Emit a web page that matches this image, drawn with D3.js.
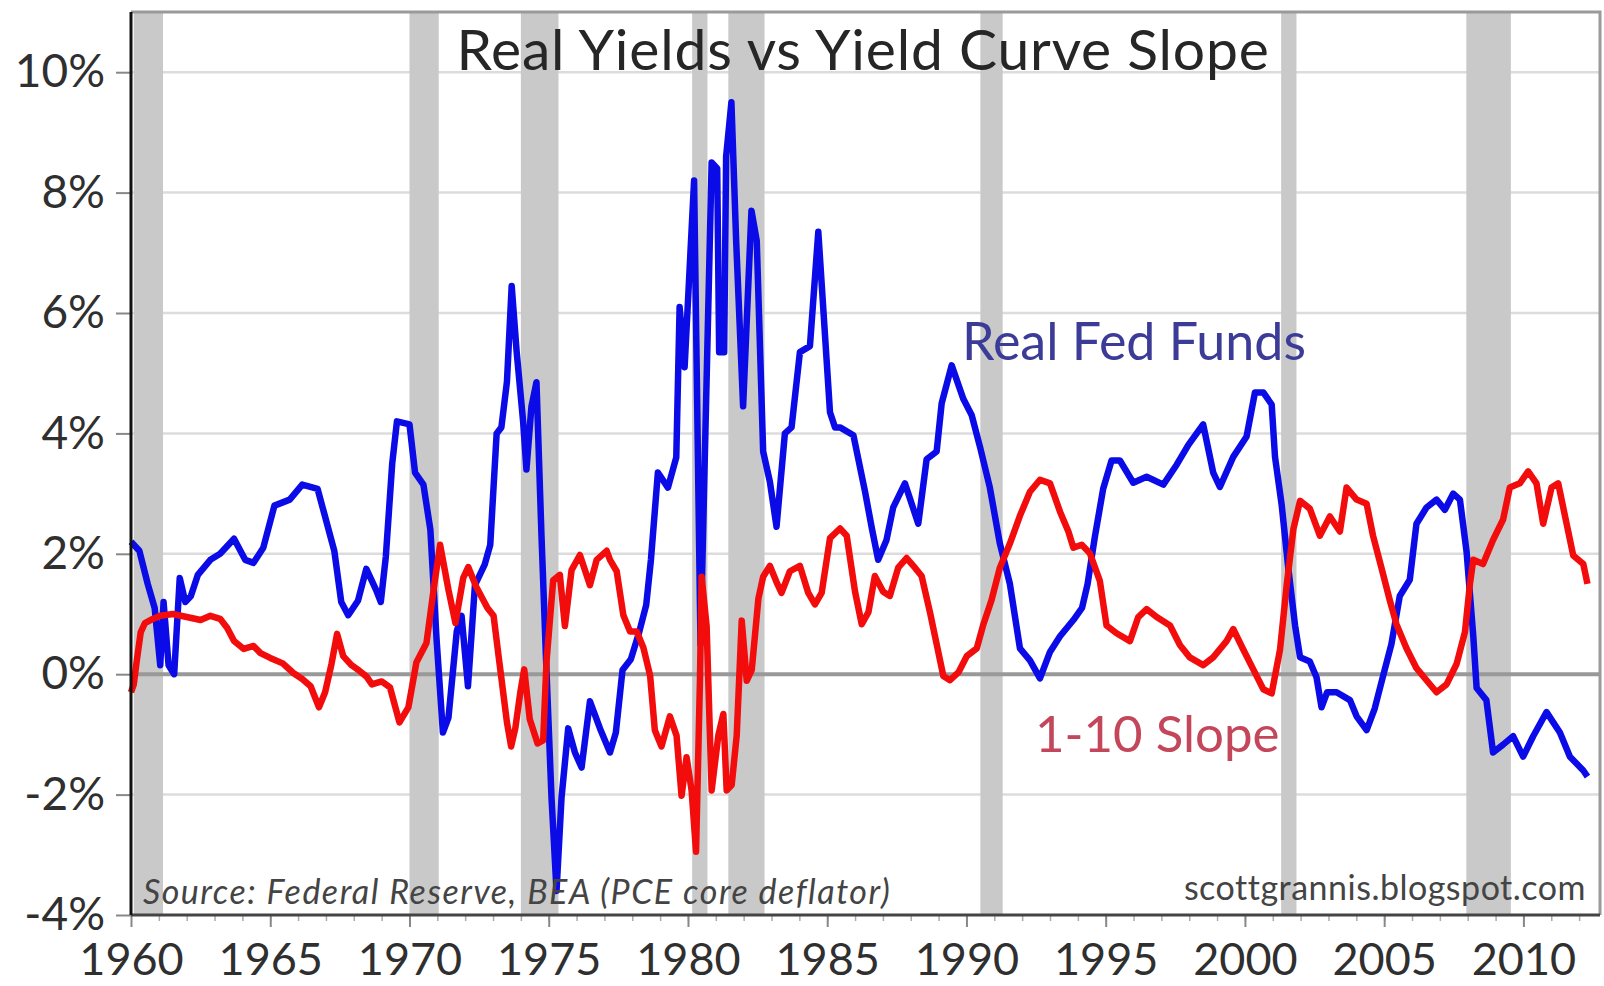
<!DOCTYPE html>
<html>
<head>
<meta charset="utf-8">
<script src="https://cdn.jsdelivr.net/npm/d3@7"></script>
<style>
  body { margin: 0; background: #fff; }
  svg { display: block; }
</style>
</head>
<body>
<div id="chart"></div>
<script>
// Real Fed Funds rate (year, %)
let realFedFunds = [
  [1960.0, 2.2], [1960.3, 2.05], [1960.6, 1.5], [1960.85, 1.1], [1961.05, 0.15], [1961.17, 1.2],
  [1961.35, 0.15], [1961.55, 0.0], [1961.75, 1.6], [1961.95, 1.2], [1962.15, 1.3], [1962.4, 1.65],
  [1962.85, 1.9], [1963.2, 2.0], [1963.7, 2.25], [1964.1, 1.9], [1964.4, 1.85], [1964.75, 2.1],
  [1965.15, 2.8], [1965.7, 2.9], [1966.15, 3.15], [1966.7, 3.08], [1966.95, 2.65], [1967.3, 2.05],
  [1967.55, 1.2], [1967.8, 0.98], [1968.15, 1.22], [1968.45, 1.75], [1968.8, 1.4], [1968.97, 1.2],
  [1969.15, 1.95], [1969.38, 3.5], [1969.55, 4.2], [1970.0, 4.15], [1970.2, 3.35], [1970.5, 3.15],
  [1970.75, 2.4], [1970.97, 0.6], [1971.2, -0.97], [1971.4, -0.72], [1971.7, 0.72], [1971.87, 0.97],
  [1972.1, -0.2], [1972.35, 1.48], [1972.7, 1.82], [1972.9, 2.15], [1973.13, 4.0], [1973.3, 4.1],
  [1973.5, 4.86], [1973.67, 6.45], [1973.85, 5.35], [1974.08, 4.2], [1974.2, 3.4], [1974.38, 4.45],
  [1974.56, 4.85], [1974.74, 2.3], [1974.92, 0.05], [1975.1, -2.05], [1975.28, -3.6], [1975.46, -2.05],
  [1975.7, -0.9], [1975.94, -1.3], [1976.18, -1.55], [1976.48, -0.45], [1976.84, -0.9], [1977.2, -1.3],
  [1977.41, -0.97], [1977.65, 0.07], [1977.95, 0.25], [1978.25, 0.7], [1978.5, 1.15], [1978.67, 1.9],
  [1978.92, 3.35], [1979.28, 3.1], [1979.58, 3.6], [1979.7, 6.1], [1979.88, 5.1], [1980.22, 8.2],
  [1980.45, 0.5], [1980.85, 8.5], [1981.05, 8.4], [1981.12, 5.35], [1981.3, 5.35], [1981.37, 8.6],
  [1981.56, 9.5], [1981.73, 7.2], [1981.98, 4.45], [1982.28, 7.7], [1982.47, 7.2], [1982.7, 3.7],
  [1982.94, 3.2], [1983.18, 2.45], [1983.48, 4.0], [1983.72, 4.1], [1984.02, 5.35], [1984.38, 5.45],
  [1984.68, 7.35], [1985.1, 4.35], [1985.28, 4.1], [1985.46, 4.1], [1985.94, 3.97], [1986.36, 3.03],
  [1986.6, 2.43], [1986.83, 1.9], [1987.13, 2.23], [1987.37, 2.77], [1987.79, 3.17], [1988.27, 2.5],
  [1988.57, 3.57], [1988.93, 3.7], [1989.11, 4.5], [1989.47, 5.13], [1989.89, 4.57], [1990.19, 4.3],
  [1990.49, 3.77], [1990.84, 3.1], [1991.2, 2.17], [1991.56, 1.5], [1991.92, 0.43], [1992.28, 0.23],
  [1992.64, -0.07], [1993.0, 0.37], [1993.36, 0.63], [1993.84, 0.9], [1994.15, 1.1], [1994.35, 1.5],
  [1994.61, 2.28], [1994.91, 3.08], [1995.21, 3.55], [1995.51, 3.55], [1995.99, 3.18], [1996.47, 3.28],
  [1997.07, 3.15], [1997.55, 3.48], [1997.97, 3.81], [1998.5, 4.15], [1998.86, 3.35], [1999.1, 3.11],
  [1999.58, 3.61], [2000.06, 3.95], [2000.36, 4.68], [2000.66, 4.68], [2000.96, 4.48], [2001.08, 3.61],
  [2001.32, 2.81], [2001.56, 1.75], [2001.8, 0.81], [2001.98, 0.28], [2002.33, 0.21], [2002.57, -0.05],
  [2002.75, -0.55], [2002.95, -0.3], [2003.29, -0.3], [2003.77, -0.43], [2004.01, -0.7], [2004.37, -0.93],
  [2004.66, -0.57], [2004.96, -0.03], [2005.26, 0.5], [2005.56, 1.3], [2005.92, 1.57], [2006.16, 2.5],
  [2006.52, 2.77], [2006.88, 2.9], [2007.18, 2.73], [2007.48, 3.0], [2007.72, 2.9], [2007.96, 2.03],
  [2008.2, 0.63], [2008.32, -0.23], [2008.67, -0.43], [2008.91, -1.3], [2009.27, -1.17], [2009.63, -1.03],
  [2009.99, -1.37], [2010.35, -1.03], [2010.83, -0.63], [2011.31, -0.97], [2011.67, -1.37], [2012.15, -1.6],
  [2012.3, -1.7]
]

// 1-10 year yield curve slope (year, %)
let slope = [
  [1960.0, -0.3], [1960.1, -0.17], [1960.2, 0.2], [1960.35, 0.7], [1960.5, 0.85], [1960.7, 0.9],
  [1961.05, 0.97], [1961.5, 1.0], [1962.0, 0.95], [1962.5, 0.9], [1962.85, 0.97], [1963.2, 0.92],
  [1963.45, 0.77], [1963.7, 0.55], [1964.05, 0.42], [1964.4, 0.47], [1964.65, 0.35], [1965.0, 0.27],
  [1965.45, 0.18], [1965.83, 0.02], [1966.15, -0.08], [1966.45, -0.2], [1966.75, -0.55], [1966.97, -0.3],
  [1967.2, 0.17], [1967.4, 0.67], [1967.62, 0.3], [1967.92, 0.15], [1968.22, 0.05], [1968.46, -0.04],
  [1968.65, -0.17], [1969.0, -0.12], [1969.3, -0.22], [1969.64, -0.8], [1969.96, -0.55], [1970.25, 0.2],
  [1970.61, 0.52], [1970.9, 1.52], [1971.1, 2.15], [1971.4, 1.4], [1971.65, 0.85], [1971.93, 1.6],
  [1972.11, 1.78], [1972.4, 1.45], [1972.8, 1.1], [1973.02, 0.97], [1973.2, 0.3], [1973.5, -0.8],
  [1973.65, -1.2], [1973.8, -0.9], [1973.98, -0.3], [1974.12, 0.08], [1974.32, -0.75], [1974.6, -1.15],
  [1974.8, -1.1], [1974.92, 0.21], [1975.16, 1.56], [1975.4, 1.65], [1975.58, 0.8], [1975.82, 1.73],
  [1976.12, 1.98], [1976.48, 1.48], [1976.72, 1.9], [1977.08, 2.05], [1977.2, 1.9], [1977.44, 1.71],
  [1977.68, 0.98], [1977.92, 0.71], [1978.16, 0.71], [1978.4, 0.44], [1978.64, -0.02], [1978.81, -0.93],
  [1979.05, -1.2], [1979.35, -0.7], [1979.59, -1.02], [1979.77, -2.02], [1979.95, -1.38], [1980.13, -1.93],
  [1980.29, -2.95], [1980.43, -0.11], [1980.49, 1.62], [1980.67, 0.8], [1980.85, -1.93], [1981.09, -1.02],
  [1981.27, -0.66], [1981.39, -1.93], [1981.57, -1.84], [1981.75, -1.02], [1981.93, 0.89], [1982.11, -0.11],
  [1982.29, 0.07], [1982.53, 1.26], [1982.7, 1.62], [1982.94, 1.8], [1983.18, 1.53], [1983.36, 1.35],
  [1983.66, 1.71], [1984.02, 1.8], [1984.32, 1.35], [1984.56, 1.16], [1984.8, 1.35], [1985.1, 2.26],
  [1985.46, 2.42], [1985.7, 2.3], [1986.0, 1.37], [1986.24, 0.83], [1986.48, 1.03], [1986.71, 1.63],
  [1987.01, 1.37], [1987.25, 1.3], [1987.55, 1.77], [1987.85, 1.93], [1988.15, 1.77], [1988.39, 1.63],
  [1988.69, 1.03], [1988.93, 0.5], [1989.17, -0.03], [1989.41, -0.1], [1989.71, 0.03], [1990.01, 0.3],
  [1990.37, 0.43], [1990.61, 0.83], [1990.9, 1.23], [1991.2, 1.77], [1991.56, 2.17], [1991.92, 2.63],
  [1992.28, 3.03], [1992.64, 3.23], [1993.0, 3.17], [1993.36, 2.7], [1993.66, 2.37], [1993.84, 2.1],
  [1994.14, 2.15], [1994.43, 2.01], [1994.79, 1.55], [1995.03, 0.81], [1995.39, 0.68], [1995.87, 0.55],
  [1996.17, 0.95], [1996.47, 1.08], [1996.83, 0.95], [1997.31, 0.81], [1997.67, 0.48], [1998.02, 0.28],
  [1998.5, 0.15], [1998.86, 0.28], [1999.34, 0.55], [1999.58, 0.75], [1999.94, 0.41], [2000.3, 0.08],
  [2000.66, -0.25], [2000.96, -0.32], [2001.26, 0.41], [2001.5, 1.48], [2001.74, 2.41], [2001.98, 2.88],
  [2002.33, 2.75], [2002.69, 2.3], [2003.05, 2.62], [2003.41, 2.37], [2003.65, 3.1], [2004.01, 2.9],
  [2004.37, 2.83], [2004.6, 2.3], [2004.9, 1.77], [2005.2, 1.23], [2005.44, 0.83], [2005.8, 0.43],
  [2006.16, 0.1], [2006.52, -0.1], [2006.88, -0.3], [2007.24, -0.17], [2007.6, 0.17], [2007.9, 0.7],
  [2008.08, 1.5], [2008.2, 1.9], [2008.55, 1.83], [2008.91, 2.23], [2009.27, 2.57], [2009.51, 3.1],
  [2009.87, 3.17], [2010.17, 3.37], [2010.47, 3.17], [2010.71, 2.5], [2011.01, 3.1], [2011.25, 3.17],
  [2011.55, 2.5], [2011.79, 1.97], [2012.15, 1.83], [2012.3, 1.5]
]

// recession shading (start, end)
let recessions = [
  [1960.1, 1961.15], [1970.0, 1971.05], [1974.0, 1975.35], [1980.15, 1980.7],
  [1981.45, 1982.75], [1990.5, 1991.3], [2001.3, 2001.85], [2007.95, 2009.55]
]

let yTicks = [-4, -2, 0, 2, 4, 6, 8, 10]
let xTicks = [1960, 1965, 1970, 1975, 1980, 1985, 1990, 1995, 2000, 2005, 2010]

// Set up margin/height/width
let margin = { top: 12, left: 131, right: 4, bottom: 71 }
let width = 1604 - margin.left - margin.right
let height = 986 - margin.top - margin.bottom

let svg = d3
  .select('#chart')
  .append('svg')
  .attr('width', 1604)
  .attr('height', 986)
  .style('font-family', 'Lato, sans-serif')
  .append('g')
  .attr('transform', `translate(${margin.left},${margin.top})`)

let xPositionScale = d3.scaleLinear().domain([1960, 2012.75]).range([0, width])
let yPositionScale = d3.scaleLinear().domain([-4, 11]).range([height, 0])

// gridlines
svg
  .selectAll('.grid')
  .data(yTicks.filter(d => d !== -4 && d !== 0))
  .enter()
  .append('line')
  .attr('class', 'grid')
  .attr('x1', 0)
  .attr('x2', width)
  .attr('y1', d => yPositionScale(d))
  .attr('y2', d => yPositionScale(d))
  .attr('stroke', '#dcdcdc')
  .attr('stroke-width', 2.5)

// recession bars
svg
  .selectAll('.recession')
  .data(recessions)
  .enter()
  .append('rect')
  .attr('class', 'recession')
  .attr('x', d => xPositionScale(d[0]))
  .attr('width', d => xPositionScale(d[1]) - xPositionScale(d[0]))
  .attr('y', 0)
  .attr('height', height)
  .attr('fill', '#c9c9c9')

// zero line
svg
  .append('line')
  .attr('x1', 0)
  .attr('x2', width)
  .attr('y1', yPositionScale(0))
  .attr('y2', yPositionScale(0))
  .attr('stroke', '#999')
  .attr('stroke-width', 4)

// frame
svg
  .append('path')
  .attr('d', `M0,0H${width}V${height}`)
  .attr('fill', 'none')
  .attr('stroke', '#9a9a9a')
  .attr('stroke-width', 3)

let line = d3
  .line()
  .x(d => xPositionScale(d[0]))
  .y(d => yPositionScale(d[1]))

svg
  .append('path')
  .datum(realFedFunds)
  .attr('d', line)
  .attr('fill', 'none')
  .attr('stroke', '#0b0be8')
  .attr('stroke-width', 6.5)
  .attr('stroke-linejoin', 'round')

svg
  .append('path')
  .datum(slope)
  .attr('d', line)
  .attr('fill', 'none')
  .attr('stroke', '#f20c0c')
  .attr('stroke-width', 6.5)
  .attr('stroke-linejoin', 'round')

// axes
let yAxis = d3
  .axisLeft(yPositionScale)
  .tickValues(yTicks)
  .tickFormat(d => d + '%')
  .tickSize(15)
  .tickPadding(11)

svg
  .append('g')
  .attr('class', 'axis y-axis')
  .call(yAxis)
  .call(g => g.select('.domain').remove())
  .call(g => g.selectAll('line').attr('stroke', '#888').attr('stroke-width', 2))
  .call(g =>
    g.selectAll('text').attr('font-size', 46).attr('fill', '#2f2f2f').attr('font-family', 'Lato, sans-serif')
  )

let xAxisMinor = d3
  .axisBottom(xPositionScale)
  .tickValues(d3.range(1961, 2013))
  .tickFormat('')
  .tickSize(6)

svg
  .append('g')
  .attr('transform', `translate(0,${height})`)
  .call(xAxisMinor)
  .call(g => g.select('.domain').remove())
  .call(g => g.selectAll('line').attr('stroke', '#aaa').attr('stroke-width', 1.5))

let xAxis = d3
  .axisBottom(xPositionScale)
  .tickValues(xTicks)
  .tickFormat(d3.format('d'))
  .tickSize(12)
  .tickPadding(16)

svg
  .append('g')
  .attr('class', 'axis x-axis')
  .attr('transform', `translate(0,${height})`)
  .call(xAxis)
  .call(g => g.select('.domain').remove())
  .call(g => g.selectAll('line').attr('stroke', '#888').attr('stroke-width', 2))
  .call(g =>
    g.selectAll('text').attr('font-size', 45).attr('fill', '#2f2f2f').attr('font-family', 'Lato, sans-serif')
  )

// axis lines
svg
  .append('line')
  .attr('x1', 0)
  .attr('x2', width)
  .attr('y1', height)
  .attr('y2', height)
  .attr('stroke', '#444')
  .attr('stroke-width', 3)

svg
  .append('line')
  .attr('x1', 0)
  .attr('x2', 0)
  .attr('y1', 0)
  .attr('y2', height)
  .attr('stroke', '#111')
  .attr('stroke-width', 3)

// title & labels
svg
  .append('text')
  .text('Real Yields vs Yield Curve Slope')
  .attr('x', 863 - margin.left)
  .attr('y', 70 - margin.top)
  .attr('text-anchor', 'middle')
  .attr('font-size', 57)
  .attr('letter-spacing', 0.8)
  .attr('fill', '#262626')

svg
  .append('text')
  .text('Real Fed Funds')
  .attr('x', 962 - margin.left)
  .attr('y', 360 - margin.top)
  .attr('font-size', 52)
  .attr('fill', '#3c3c98')

svg
  .append('text')
  .text('1-10 Slope')
  .attr('x', 1035 - margin.left)
  .attr('y', 752 - margin.top)
  .attr('font-size', 51)
  .attr('fill', '#c4465a')

svg
  .append('text')
  .text('Source: Federal Reserve, BEA (PCE core deflator)')
  .attr('x', 143 - margin.left)
  .attr('y', 904 - margin.top)
  .attr('font-size', 34)
  .attr('letter-spacing', 1.5)
  .attr('font-style', 'italic')
  .attr('fill', '#444')

svg
  .append('text')
  .text('scottgrannis.blogspot.com')
  .attr('x', 1586 - margin.left)
  .attr('y', 900 - margin.top)
  .attr('text-anchor', 'end')
  .attr('font-size', 34)
  .attr('letter-spacing', 0.5)
  .attr('fill', '#444')
</script>
</body>
</html>
